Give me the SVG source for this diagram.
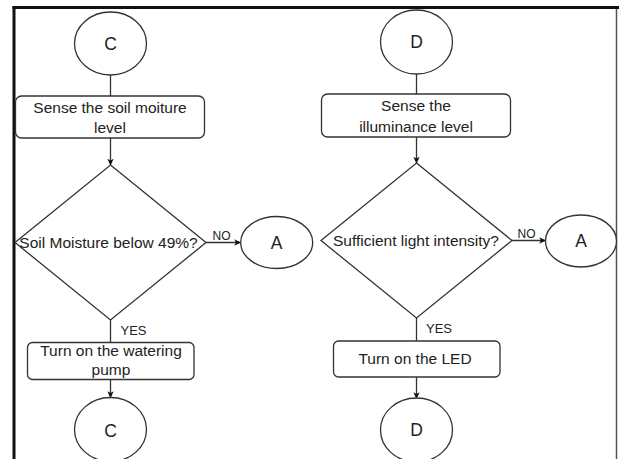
<svg xmlns="http://www.w3.org/2000/svg" width="619" height="459" viewBox="0 0 619 459">
<defs>
<marker id="arr" viewBox="0 0 10 10" refX="9" refY="5" markerWidth="7" markerHeight="7" markerUnits="userSpaceOnUse" orient="auto">
<path d="M0,0.5 L10,5 L0,9.5 L2.5,5 Z" fill="#111"/>
</marker>
<style>
.sh{fill:#fff;stroke:#333;stroke-width:1.3}
.t{font-family:"Liberation Sans",Arial,sans-serif;font-size:15.5px;fill:#222;text-anchor:middle;dominant-baseline:central}
.big{font-size:17.5px}
.lb{font-family:"Liberation Sans",Arial,sans-serif;font-size:12px;fill:#222;dominant-baseline:central}
.ys{font-size:13px}
.c{fill:none;stroke:#333;stroke-width:1.3}
.ca{fill:none;stroke:#333;stroke-width:1.3;marker-end:url(#arr)}
</style>
</defs>
<rect width="619" height="459" fill="#fff"/>
<g id="frame">
<line x1="12.5" y1="7.5" x2="619" y2="7.5" stroke="#111" stroke-width="3"/>
<line x1="14" y1="6" x2="14" y2="459" stroke="#111" stroke-width="3"/>
<line x1="616.5" y1="9" x2="616.5" y2="459" stroke="#555" stroke-width="1.5"/>
</g>
<g id="connectors">
<line class="c" x1="110.5" y1="75" x2="110.5" y2="96"/>
<line class="ca" x1="110.5" y1="138" x2="110.5" y2="165"/>
<line class="ca" x1="206" y1="242.5" x2="240.5" y2="242.5"/>
<line class="c" x1="110.5" y1="320" x2="110.5" y2="342.5"/>
<line class="ca" x1="110.5" y1="379.5" x2="110.5" y2="397.5"/>
<line class="c" x1="416.5" y1="74" x2="416.5" y2="94"/>
<line class="ca" x1="416.5" y1="137" x2="416.5" y2="163"/>
<line class="ca" x1="512" y1="240.5" x2="545.5" y2="240.5"/>
<line class="c" x1="416.5" y1="318" x2="416.5" y2="341"/>
<line class="ca" x1="416.5" y1="377" x2="416.5" y2="398.5"/>
<text class="lb" x="212.5" y="236">NO</text>
<text class="lb ys" x="120.5" y="330">YES</text>
<text class="lb" x="517.5" y="234">NO</text>
<text class="lb ys" x="426" y="328.5">YES</text>
</g>
<g id="c_top">
<ellipse class="sh" cx="110.5" cy="43.5" rx="36" ry="31.5"/>
<text class="t big" x="110.5" y="43.5">C</text>
</g>
<g id="sense_soil">
<rect class="sh" x="15.5" y="96" width="189" height="42" rx="6"/>
<text class="t" x="110" y="107">Sense the soil moiture</text>
<text class="t" x="110" y="127">level</text>
</g>
<g id="soil_decision">
<polygon class="sh" points="110.5,165 206,242.5 110.5,320 15,242.5"/>
<text class="t" x="108.5" y="242.5">Soil Moisture below 49%?</text>
</g>
<g id="a_left">
<ellipse class="sh" cx="276.7" cy="242.5" rx="36" ry="26"/>
<text class="t big" x="276.7" y="242.5">A</text>
</g>
<g id="pump">
<rect class="sh" x="27.5" y="342.5" width="166.5" height="37" rx="5"/>
<text class="t" x="111" y="350">Turn on the watering</text>
<text class="t" x="111" y="369.5">pump</text>
</g>
<g id="c_bottom">
<ellipse class="sh" cx="110.5" cy="429.5" rx="36" ry="32"/>
<text class="t big" x="110.5" y="431">C</text>
</g>
<g id="d_top">
<ellipse class="sh" cx="416.5" cy="42" rx="36" ry="32"/>
<text class="t big" x="416.5" y="42">D</text>
</g>
<g id="sense_light">
<rect class="sh" x="321.5" y="94" width="189" height="43" rx="6"/>
<text class="t" x="416" y="105">Sense the</text>
<text class="t" x="416" y="126.5">illuminance level</text>
</g>
<g id="light_decision">
<polygon class="sh" points="416.5,163 512,240.5 416.5,318 321,240.5"/>
<text class="t" x="416" y="240.5">Sufficient light intensity?</text>
</g>
<g id="a_right">
<ellipse class="sh" cx="581" cy="241" rx="35.5" ry="26"/>
<text class="t big" x="581" y="241">A</text>
</g>
<g id="led">
<rect class="sh" x="333.5" y="341" width="166.5" height="36" rx="5"/>
<text class="t" x="415" y="358.5">Turn on the LED</text>
</g>
<g id="d_bottom">
<ellipse class="sh" cx="416.5" cy="430" rx="36" ry="32"/>
<text class="t big" x="416.5" y="429.5">D</text>
</g>
</svg>
